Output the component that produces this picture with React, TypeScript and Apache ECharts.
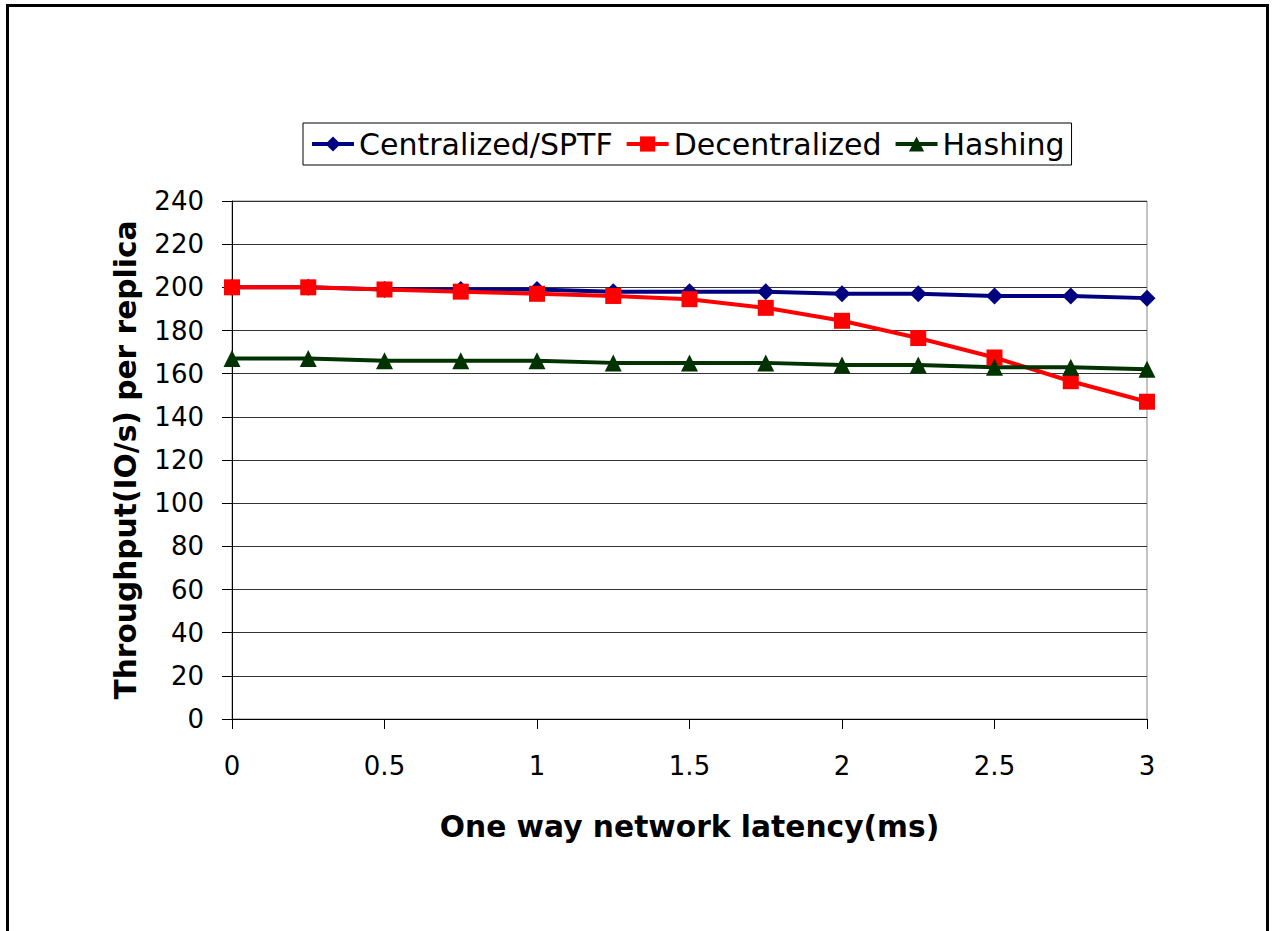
import React, { useEffect, useRef } from "react";
import * as echarts from "echarts";

const latency = [0, 0.25, 0.5, 0.75, 1, 1.25, 1.5, 1.75, 2, 2.25, 2.5, 2.75, 3];
const centralized = [200, 200, 199, 199, 199, 198, 198, 198, 197, 197, 196, 196, 195];
const decentralized = [200, 200, 199, 198, 197, 196, 194.5, 190.5, 184.5, 176.5, 167.5, 156.5, 147];
const hashing = [167, 167, 166, 166, 166, 165, 165, 165, 164, 164, 163, 163, 162];

const seriesNames = ["Centralized/SPTF", "Decentralized", "Hashing"];
const seriesColors = ["#000080", "#FF0000", "#003300"];
const seriesSymbols = ["diamond", "rect", "triangle"];
const seriesSizes = [17, 16, 17];

const FONT = "DejaVu Sans";

export default function App() {
  const ref = useRef<HTMLDivElement>(null);
  useEffect(() => {
    if (!ref.current) return;
    const chart = echarts.init(ref.current, null, { renderer: "svg" });
    const datas = [centralized, decentralized, hashing];
    chart.setOption({
      animation: false,
      backgroundColor: "#ffffff",
      textStyle: { fontFamily: FONT },
      graphic: [
        {
          type: "rect",
          shape: { x: 7.5, y: 5.5, width: 1260, height: 940 },
          style: { fill: "none", stroke: "#000", lineWidth: 3 },
          silent: true,
        },
      ],
      legend: {
        left: 303,
        top: 123,
        orient: "horizontal",
        data: seriesNames,
        itemWidth: 42,
        itemHeight: 19,
        itemGap: 12,
        padding: [6, 7],
        borderColor: "#000",
        borderWidth: 1,
        lineStyle: { width: 4 },
        textStyle: { fontFamily: FONT, fontSize: 30, color: "#000" },
      },
      grid: {
        left: 232,
        right: 127,
        top: 201,
        bottom: 212,
        show: true,
        borderColor: "#888",
        borderWidth: 1,
        backgroundColor: "transparent",
      },
      xAxis: {
        type: "value",
        min: 0,
        max: 3,
        interval: 0.5,
        name: "One way network latency(ms)",
        nameLocation: "middle",
        nameGap: 92,
        nameTextStyle: { fontFamily: FONT, fontSize: 29.7, fontWeight: "bold", color: "#000" },
        axisLine: { show: true, lineStyle: { color: "#000", width: 1 } },
        axisTick: { show: true, length: 10, inside: false, lineStyle: { color: "#000" } },
        axisLabel: { fontFamily: FONT, fontSize: 26, color: "#000", margin: 34 },
        splitLine: { show: false },
      },
      yAxis: {
        type: "value",
        min: 0,
        max: 240,
        interval: 20,
        name: "Throughput(IO/s) per replica",
        nameLocation: "middle",
        nameGap: 92,
        nameTextStyle: { fontFamily: FONT, fontSize: 29.7, fontWeight: "bold", color: "#000" },
        axisLine: { show: true, lineStyle: { color: "#000", width: 1 } },
        axisTick: { show: true, length: 10, inside: false, lineStyle: { color: "#000" } },
        axisLabel: { fontFamily: FONT, fontSize: 26, color: "#000", margin: 28 },
        splitLine: { show: true, lineStyle: { color: "#333", width: 1 } },
      },
      series: seriesNames.map((name, i) => ({
        name,
        type: "line",
        data: latency.map((x, j) => [x, datas[i][j]]),
        symbol: seriesSymbols[i],
        symbolSize: seriesSizes[i],
        showSymbol: true,
        color: seriesColors[i],
        itemStyle: { color: seriesColors[i] },
        lineStyle: { color: seriesColors[i], width: 4 },
        emphasis: { disabled: true },
      })),
    });
    return () => chart.dispose();
  }, []);
  return (
    <div
      ref={ref}
      style={{ position: "absolute", left: 0, top: 0, width: 1274, height: 931 }}
    />
  );
}
